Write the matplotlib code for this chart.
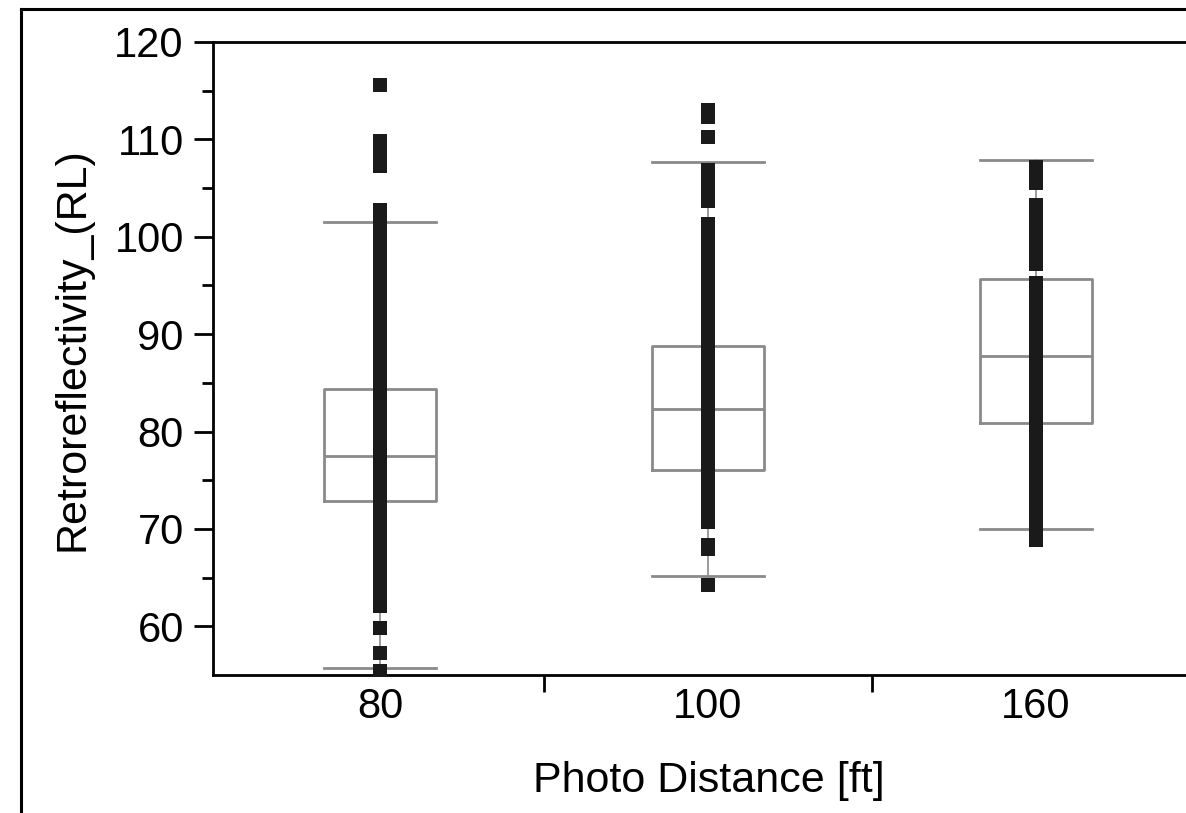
import matplotlib
matplotlib.use('Agg')
import matplotlib.pyplot as plt
from matplotlib.lines import Line2D

plt.rcParams['font.family'] = ['Liberation Sans', 'DejaVu Sans']

# photo distance groups
distances = ['80', '100', '160']

# box statistics per distance (RL)
whislo = [55.7, 65.2, 70.0]
q1 = [72.9, 76.1, 80.9]
median = [77.5, 82.3, 87.8]
q3 = [84.4, 88.8, 95.7]
whishi = [101.5, 107.7, 107.9]

# individual readings, stacked in one column per distance
rl_80 = [55.4, 57.3, 59.8,
         62.1, 63, 64, 65, 66, 67, 68, 69, 70, 71, 72, 73, 74, 75, 76, 77, 78,
         79, 80, 81, 82, 83, 84, 85, 86, 87, 88, 89, 90, 91, 92, 93, 94, 95,
         96, 97, 98, 99, 100, 101, 102, 102.8,
         107.3, 108.3, 109.3, 109.8, 115.6]
rl_100 = [64.2, 67.9, 68.3,
          70.7, 71.5, 72.5, 73.5, 74.5, 75.5, 76.5, 77.5, 78.5, 79.5, 80.5,
          81.5, 82.5, 83.5, 84.5, 85.5, 86.5, 87.5, 88.5, 89.5, 90.5, 91.5,
          92.5, 93.5, 94.5, 95.5, 96.5, 97.5, 98.5, 99.5, 100.5, 101.3,
          103.7, 104.5, 105.5, 106.3, 106.9,
          110.2, 112.3, 113.0]
rl_160 = [68.9, 69.5, 70.5, 71.5, 72.5, 73.5, 74.5, 75.5, 76.5, 77.5, 78.5,
          79.5, 80.5, 81.5, 82.5, 83.5, 84.5, 85.5, 86.5, 87.5, 88.5, 89.5,
          90.5, 91.5, 92.5, 93.5, 94.5, 95.3,
          97.2, 98, 99, 100, 101, 102, 103.3,
          105.5, 106.5, 107.2]
readings = [rl_80, rl_100, rl_160]

fig = plt.figure(figsize=(11.86, 8.13), dpi=100)
ax = fig.add_axes([213 / 1186, 1 - 675 / 813, 1 - 213 / 1186, (675 - 42) / 813])

stats = []
for i, lab in enumerate(distances):
    stats.append({'label': lab, 'whislo': whislo[i], 'q1': q1[i], 'med': median[i],
                  'q3': q3[i], 'whishi': whishi[i]})

gray = dict(color='#8a8a8a', linewidth=2.0)
ax.bxp(stats, positions=[0, 1, 2], widths=0.34, capwidths=0.34, showfliers=False,
       boxprops=gray, medianprops=gray, whiskerprops=dict(color='#8a8a8a', linewidth=1.2),
       capprops=gray, zorder=2)

for i, vals in enumerate(readings):
    ax.plot([i] * len(vals), vals, linestyle='none', marker='s', markersize=10,
            color='#1a1a1a', markeredgewidth=0, zorder=3, clip_on=True)

ax.set_xlim(-0.509, 2.457)
ax.set_ylim(55, 120)

ax.set_yticks([60, 70, 80, 90, 100, 110, 120])
ax.set_yticks([65, 75, 85, 95, 105, 115], minor=True)
ax.set_xticks([0, 1, 2])
ax.set_xticklabels(distances)
ax.set_xticks([0.5, 1.5], minor=True)

ax.tick_params(axis='y', which='major', length=14, width=2, labelsize=30, pad=7)
ax.tick_params(axis='y', which='minor', length=8, width=2)
ax.tick_params(axis='x', which='major', length=0, labelsize=30, pad=9)
ax.tick_params(axis='x', which='minor', length=12, width=2)

for s in ['left', 'bottom', 'top']:
    ax.spines[s].set_linewidth(2)
ax.spines['right'].set_visible(False)

ax.set_xlabel('Photo Distance [ft]', fontsize=31, labelpad=24)
ax.set_ylabel('Retroreflectivity_(RL)', fontsize=31, labelpad=16)
ax.xaxis.label.set_x(0.51)
ax.yaxis.label.set_y(0.515)

# outer frame of the figure
fig.add_artist(Line2D([21 / 1186, 21 / 1186], [0, 1 - 9 / 813], color='black', linewidth=2.2))
fig.add_artist(Line2D([21 / 1186, 1], [1 - 9 / 813, 1 - 9 / 813], color='black', linewidth=2.2))

fig.savefig('out.png', dpi=100)
